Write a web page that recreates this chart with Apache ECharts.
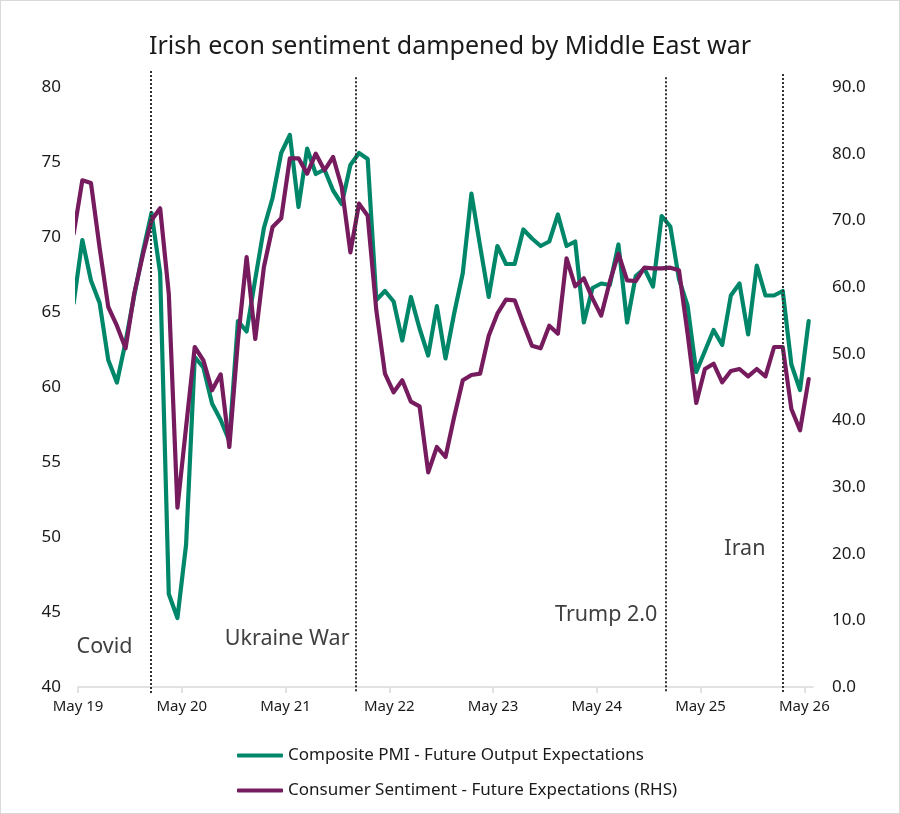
<!DOCTYPE html>
<html>
<head>
<meta charset="utf-8">
<script src="https://cdn.jsdelivr.net/npm/echarts@6/dist/echarts.min.js"></script>
<style>
html,body{margin:0;padding:0;background:#fff;}
#chart{width:898px;height:812px;border:1px solid #d9d9d9;}
</style>
</head>
<body>
<div id="chart"></div>
<script>
// Monthly data, Apr 2019 (first value, clipped at axis start) through May 2026
const firstMonth = 'Apr 19';
const pmiFutureOutput = [
  65.6,
  69.8, 67.1, 65.6, 61.8, 60.3, 63.0, 66.1, 69.0, 71.6, 67.6, 46.2, 44.6,
  49.5, 62.0, 61.3, 58.9, 57.8, 56.4, 64.4, 63.7, 67.2, 70.6, 72.6, 75.6,
  76.8, 72.0, 75.9, 74.2, 74.5, 73.1, 72.2, 74.8, 75.6, 75.2, 65.8, 66.4,
  65.7, 63.1, 66.0, 63.9, 62.1, 65.4, 61.9, 64.9, 67.6, 72.9, 69.4, 66.0,
  69.4, 68.2, 68.2, 70.5, 69.9, 69.4, 69.7, 71.5, 69.4, 69.7, 64.3, 66.6,
  66.9, 66.8, 69.5, 64.3, 67.4, 67.9, 66.7, 71.4, 70.7, 67.2, 65.4, 61.0,
  62.4, 63.8, 62.8, 66.1, 66.9, 63.5, 68.1, 66.1, 66.1, 66.4, 61.5, 59.8,
  64.4
];
const consumerFutureExp = [
  68.0,
  76.0, 75.6, 65.9, 57.0, 54.2, 50.8, 59.0, 64.8, 70.0, 71.8, 59.0, 26.9,
  39.0, 51.0, 49.0, 44.5, 46.9, 36.0, 52.0, 64.5, 52.2, 63.0, 69.0, 70.3,
  79.3, 79.3, 77.0, 80.0, 77.5, 79.5, 75.0, 65.2, 72.5, 70.7, 56.5, 47.0,
  44.2, 46.0, 42.8, 42.1, 32.2, 36.0, 34.5, 40.5, 46.0, 46.8, 47.0, 52.7,
  56.0, 58.1, 58.0, 54.5, 51.2, 50.8, 54.2, 53.0, 64.3, 60.1, 61.3, 58.3,
  55.7, 60.8, 65.0, 61.0, 60.9, 62.9, 62.8, 62.8, 62.9, 62.5, 53.0, 42.6,
  47.7, 48.5, 45.7, 47.4, 47.7, 46.6, 47.7, 46.6, 51.0, 51.0, 41.7, 38.5,
  46.2
];
const tickLabels = ['May 19','May 20','May 21','May 22','May 23','May 24','May 25','May 26'];
const eventNames = ['Covid','Ukraine War','Trump 2.0','Iran'];
const eventMonths = [8.4, 32.1, 68.0, 81.5];   // months after May 19 tick
const seriesNames = ['Composite PMI - Future Output Expectations','Consumer Sentiment - Future Expectations (RHS)'];

// x position of each monthly value: mid-month, months counted from May 19 tick
const toXY = arr => arr.map((v, i) => [i - 0.5, v]);
const tickValues = tickLabels.map((_, i) => i * 12);

const FONT = 'Noto Sans';
const GREEN = '#00876A';
const PURPLE = '#761C5E';

// helper grid (slightly taller than the plot) used only for the dotted event lines
const eventTops = [1.0, 0.99, 0.99, 0.995];
const eventLines = eventMonths.map((m, i) => [
  {coord: [m, eventTops[i]]},
  {coord: [m, 0]}
]);
const eventLabels = [
  {name: eventNames[0], coord: [6.3, 42.7]},
  {name: eventNames[1], coord: [31.4, 43.2]},
  {name: eventNames[2], coord: [67.0, 44.8]},
  {name: eventNames[3], coord: [79.5, 49.2]}
];

const chart = echarts.init(document.getElementById('chart'));
chart.setOption({
  animation: false,
  backgroundColor: '#fff',
  title: {
    text: 'Irish econ sentiment dampened by Middle East war',
    left: 'center', top: 28,
    textStyle: {fontFamily: FONT, fontSize: 25, fontWeight: 'normal', color: '#1a1a1a'}
  },
  grid: [
    {left: 77, right: 86, top: 86, bottom: 126, containLabel: false},
    {left: 77, right: 86, top: 70, bottom: 120, containLabel: false}
  ],
  legend: {
    orient: 'vertical', left: 231, top: 741, itemGap: 18,
    itemWidth: 46, itemHeight: 4, icon: 'roundRect',
    data: seriesNames,
    textStyle: {fontFamily: FONT, fontSize: 17, color: '#1a1a1a'}
  },
  xAxis: [
    {
      type: 'value', min: 0, max: 85, gridIndex: 0,
      axisLine: {lineStyle: {color: '#d9d9d9', width: 1.5}},
      axisTick: {show: true, length: 6, lineStyle: {color: '#d9d9d9', width: 1.5}, customValues: tickValues},
      axisLabel: {
        customValues: tickValues, margin: 12,
        fontFamily: FONT, fontSize: 15, color: '#1a1a1a',
        formatter: v => tickLabels[Math.round(v / 12)] || ''
      },
      splitLine: {show: false}
    },
    {type: 'value', min: 0, max: 85, gridIndex: 1, show: false}
  ],
  yAxis: [
    {
      type: 'value', min: 40, max: 80, interval: 5, position: 'left', gridIndex: 0,
      axisLine: {show: false}, axisTick: {show: false}, splitLine: {show: false},
      axisLabel: {margin: 17, fontFamily: FONT, fontSize: 17, color: '#1a1a1a'}
    },
    {
      type: 'value', min: 0, max: 90, interval: 10, position: 'right', gridIndex: 0,
      axisLine: {show: false}, axisTick: {show: false}, splitLine: {show: false},
      axisLabel: {margin: 19, fontFamily: FONT, fontSize: 17, color: '#1a1a1a', formatter: v => v.toFixed(1)}
    },
    {type: 'value', min: 0, max: 1, gridIndex: 1, show: false}
  ],
  series: [
    {
      name: 'events', type: 'line', xAxisIndex: 1, yAxisIndex: 2, data: [], silent: true, z: 1,
      markLine: {
        silent: true, symbol: ['none', 'none'], animation: false,
        lineStyle: {color: '#333333', width: 2, type: [2, 2]},
        label: {show: false},
        data: eventLines
      }
    },
    {
      name: seriesNames[0], type: 'line', yAxisIndex: 0,
      data: toXY(pmiFutureOutput), showSymbol: false, clip: true, z: 3,
      itemStyle: {color: GREEN},
      lineStyle: {color: GREEN, width: 4.2, join: 'round', cap: 'round'}
    },
    {
      name: seriesNames[1], type: 'line', yAxisIndex: 1,
      data: toXY(consumerFutureExp), showSymbol: false, clip: true, z: 4,
      itemStyle: {color: PURPLE},
      lineStyle: {color: PURPLE, width: 4.2, join: 'round', cap: 'round'}
    },
    {
      name: 'eventLabels', type: 'line', yAxisIndex: 0, data: [], clip: false, silent: true, z: 5,
      markPoint: {
        silent: true, symbol: 'circle', symbolSize: 0, animation: false,
        label: {show: true, position: 'left', distance: 0, formatter: '{b}',
          fontFamily: FONT, fontSize: 21.5, color: '#404040'},
        data: eventLabels
      }
    }
  ]
});
</script>
</body>
</html>
